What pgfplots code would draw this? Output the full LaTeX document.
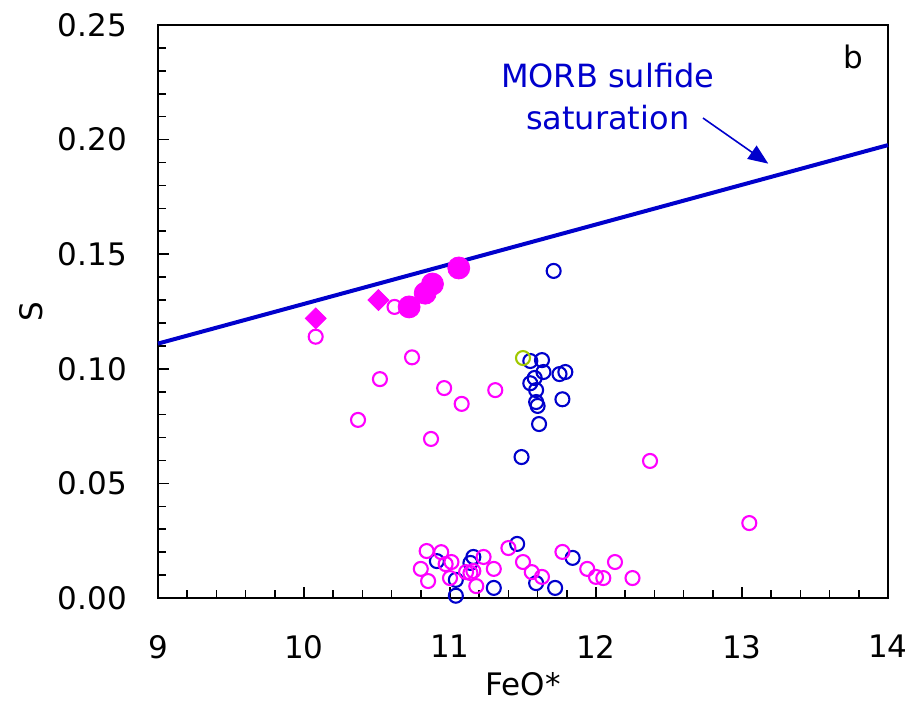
\documentclass[border=0pt]{standalone}
\usepackage{fontspec}
\setmainfont{DejaVu Sans}
\usepackage{pgfplots}
\pgfplotsset{compat=1.18}
\usetikzlibrary{arrows.meta}
\definecolor{mblue}{RGB}{0,0,204}
\definecolor{mmag}{RGB}{255,0,255}
\definecolor{mgreen}{RGB}{160,200,0}
\begin{document}
\begin{tikzpicture}
\begin{axis}[
  scale only axis, width=365pt, height=286.5pt,
  xmin=9, xmax=14, ymin=0, ymax=0.25,
  xtick={9,10,11,12,13,14}, ytick={0,0.05,0.10,0.15,0.20,0.25},
  minor x tick num=4, minor y tick num=4,
  tick align=inside, xtick pos=left, ytick pos=left,
  major tick length=5.5pt, minor tick length=4pt,
  axis line style={line width=1.2pt},
  every tick/.style={black, line width=0.8pt},
  /pgf/number format/assume math mode=true,
  ticklabel style={font=\fontsize{15.5}{18}\selectfont},
  yticklabel style={xshift=-12pt, /pgf/number format/fixed, /pgf/number format/fixed zerofill, /pgf/number format/precision=2},
  xticklabel style={yshift=-15pt},
  xlabel={FeO*}, ylabel={S},
  label style={font=\fontsize{15.5}{18}\selectfont},
  xlabel style={yshift=0pt},
  ylabel style={yshift=0.5pt},
  clip=false,
]
\addplot[mblue, line width=2pt] coordinates {(9,0.111) (14,0.1976)};
\addplot[only marks, mark=o, mark size=3.5pt, mark options={line width=1.05pt, mblue}] coordinates {
(11.71,0.1427) (11.55,0.1034) (11.63,0.1038) (11.64,0.0986) (11.58,0.096)
(11.55,0.0937) (11.75,0.0977) (11.79,0.0986) (11.59,0.0907) (11.59,0.0855)
(11.60,0.0838) (11.77,0.0867) (11.61,0.0759) (11.49,0.0615) (11.46,0.0236)
(10.91,0.0161) (11.16,0.0179) (11.14,0.0153) (11.04,0.0079) (11.04,0.0010)
(11.30,0.0044) (11.59,0.0065) (11.72,0.0044) (11.84,0.0175)
};
\addplot[only marks, mark=o, mark size=3.5pt, mark options={line width=1.05pt, mgreen}] coordinates {(11.50,0.1047)};
\addplot[only marks, mark=o, mark size=3.5pt, mark options={line width=1.05pt, mmag}] coordinates {
(10.08,0.114) (10.62,0.127) (10.74,0.105) (10.52,0.0955) (10.96,0.0916)
(11.08,0.0847) (11.31,0.0907) (10.37,0.0777) (10.87,0.0694) (12.37,0.0598)
(13.05,0.0327)
(10.84,0.0205) (10.94,0.020) (10.80,0.0127) (10.85,0.0074) (11.01,0.0157)
(10.97,0.0148) (11.00,0.0087) (11.11,0.0113) (11.16,0.0118) (11.14,0.0109)
(11.18,0.0052) (11.23,0.0179) (11.30,0.0127) (11.40,0.0218) (11.50,0.0157)
(11.56,0.0113) (11.63,0.0092) (11.77,0.0201) (11.94,0.0127) (12.00,0.0092)
(12.05,0.0087) (12.13,0.0157) (12.25,0.0087)
};
\addplot[only marks, mark=*, mark size=5.5pt, mark options={draw=mmag, fill=mmag}] coordinates {
(10.72,0.127) (10.83,0.133) (10.88,0.137) (11.06,0.144)
};
\addplot[only marks, mark=square*, mark size=3.7pt, mark options={draw=mmag, fill=mmag, rotate=45}] coordinates {
(10.08,0.122) (10.51,0.130)
};
\node[mblue, align=center, font=\fontsize{16}{21}\selectfont] at (axis cs:12.08,0.2188) {MORB sulfide\\saturation};
\draw[mblue, line width=0.8pt, -{Triangle[length=10pt, width=8pt]}] (axis cs:12.733,0.2094) -- (axis cs:13.18,0.1895);
\node[font=\fontsize{15.5}{18}\selectfont] at (axis cs:13.76,0.236) {b};
\end{axis}
\pgfresetboundingbox
\path[use as bounding box] ([shift={(-79pt,-60.5pt)}]current axis.south west) rectangle ([shift={(11pt,12.5pt)}]current axis.north east);
\end{tikzpicture}
\end{document}
